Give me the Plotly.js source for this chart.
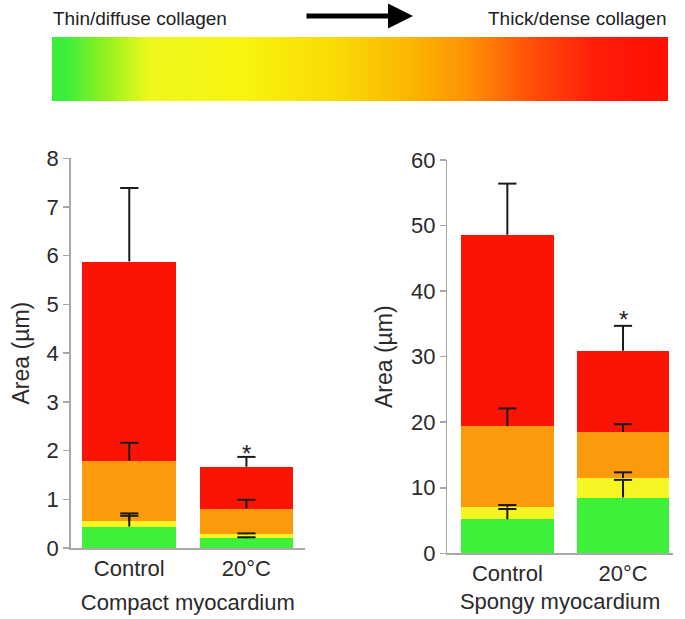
<!DOCTYPE html>
<html>
<head>
<meta charset="utf-8">
<script src="https://cdn.plot.ly/plotly-3.0.1.min.js"></script>
<style>html,body{margin:0;padding:0;background:#fff;}#chart{width:685px;height:619px;}</style>
</head>
<body>
<div id="chart"></div>
<script>
// ---- Data ----
const groups = ['Control', '20°C'];
const layerNames = ['Thin/diffuse', 'Intermediate', 'Thick', 'Thick/dense'];
const layerColors = ['#3ef03a', '#f5f523', '#fb9a0a', '#fa1405'];

// Compact myocardium: stacked segment heights (µm)
const compactGreen = [0.44, 0.20];
const compactYellow = [0.12, 0.08];
const compactOrange = [1.23, 0.53];
const compactRed = [4.09, 0.86];
const compactGreenErr = [0.22, 0.02];
const compactYellowErr = [0.15, 0.02];
const compactOrangeErr = [0.37, 0.18];
const compactRedErr = [1.51, 0.20];

// Spongy myocardium
const spongyGreen = [5.2, 8.5];
const spongyYellow = [1.8, 3.0];
const spongyOrange = [12.4, 7.0];
const spongyRed = [29.2, 12.4];
const spongyGreenErr = [1.56, 2.7];
const spongyYellowErr = [0.37, 0.85];
const spongyOrangeErr = [2.7, 1.2];
const spongyRedErr = [7.8, 3.8];

// Significance markers (y position of the asterisk)
const compactStarY = [null, 1.95];
const spongyStarY = [null, 35.7];

// Colour legend bar
const gradientLevels = [[0,1,2,3,4,5,6,7,8,9,10,11,12,13,14,15,16,17,18,19,20]];
const gradientColorscale = [
  [0, '#3cee3c'], [0.06, '#8cf020'], [0.14, '#eef81c'], [0.3, '#f8f410'],
  [0.45, '#f8dc05'], [0.58, '#fbb800'], [0.68, '#fd9305'], [0.8, '#ff4a08'],
  [0.9, '#ff1e08'], [1, '#ff1005']
];

// ---- Traces ----
const errColor = '#1a1a1a';
function barTrace(vals, idx, xa, ya) {
  return {
    type: 'bar', x: groups, y: vals, width: 0.8,
    xaxis: xa, yaxis: ya, name: layerNames[idx], showlegend: false,
    marker: {color: layerColors[idx], line: {width: 0}},
    hoverinfo: 'y'
  };
}
function addArr(a, b) { return a.map((v, i) => v + b[i]); }
function errTraces(tops, errs, xa, ya) {
  // stem (upper error only, no caps) drawn from the segment top
  const stem = {
    type: 'scatter', mode: 'markers', x: groups, y: tops, xaxis: xa, yaxis: ya,
    marker: {size: 1, opacity: 0}, showlegend: false, hoverinfo: 'skip', cliponaxis: false,
    error_y: {type: 'data', array: errs, arrayminus: [0, 0], symmetric: false,
              color: errColor, thickness: 2, width: 0}
  };
  // cap at the upper end
  const cap = {
    type: 'scatter', mode: 'markers', x: groups, y: addArr(tops, errs), xaxis: xa, yaxis: ya,
    marker: {symbol: 'line-ew-open', size: 13, color: errColor, line: {width: 2, color: errColor}},
    showlegend: false, hoverinfo: 'skip', cliponaxis: false
  };
  return [stem, cap];
}

function stackTraces(layers, errs, xa, ya) {
  let out = layers.map((l, i) => barTrace(l, i, xa, ya));
  let top = [0, 0];
  layers.forEach((l, i) => {
    top = addArr(top, l);
    out = out.concat(errTraces(top, errs[i], xa, ya));
  });
  return out;
}

const traces = [].concat(
  stackTraces([compactGreen, compactYellow, compactOrange, compactRed],
              [compactGreenErr, compactYellowErr, compactOrangeErr, compactRedErr], 'x', 'y'),
  stackTraces([spongyGreen, spongyYellow, spongyOrange, spongyRed],
              [spongyGreenErr, spongyYellowErr, spongyOrangeErr, spongyRedErr], 'x2', 'y2'),
  [{
    type: 'heatmap', z: gradientLevels, xaxis: 'x3', yaxis: 'y3',
    colorscale: gradientColorscale, zmin: 0, zmax: 20, zsmooth: 'best',
    showscale: false, hoverinfo: 'skip'
  }]
);

const font = 'Liberation Sans, Arial, sans-serif';
const tc = '#2a2a2a';
const axisCommon = {
  showgrid: false, zeroline: false, showline: true, linecolor: '#a8a8a8', linewidth: 1.5,
  tickfont: {family: font, size: 22, color: tc}
};

const annotations = [];
groups.forEach((g, i) => {
  if (compactStarY[i] !== null) annotations.push({xref: 'x', yref: 'y', x: g, y: compactStarY[i], text: '*', showarrow: false, font: {family: font, size: 24, color: '#222'}});
  if (spongyStarY[i] !== null) annotations.push({xref: 'x2', yref: 'y2', x: g, y: spongyStarY[i], text: '*', showarrow: false, font: {family: font, size: 24, color: '#222'}});
});
annotations.push(
  {xref: 'paper', yref: 'paper', x: 51/685, y: 1 - 18/619, xanchor: 'left', yanchor: 'middle', text: 'Thin/diffuse collagen', showarrow: false, font: {family: font, size: 19, color: '#222'}},
  {xref: 'paper', yref: 'paper', x: 669/685, y: 1 - 18/619, xanchor: 'right', yanchor: 'middle', text: 'Thick/dense collagen', showarrow: false, font: {family: font, size: 19, color: '#222'}},
  {xref: 'paper', yref: 'paper', x: 413/685, y: 1 - 16/619, axref: 'paper', ayref: 'paper', ax: 305/685, ay: 1 - 16/619, text: '', showarrow: true, arrowhead: 2, arrowsize: 1, arrowwidth: 5, arrowcolor: '#000'}
);

const layout = {
  width: 685, height: 619, margin: {l: 0, r: 0, t: 0, b: 0},
  paper_bgcolor: '#fff', plot_bgcolor: 'rgba(0,0,0,0)',
  barmode: 'stack', showlegend: false,
  font: {family: font, color: tc},
  xaxis: Object.assign({}, axisCommon, {domain: [70.7/685, 305/685], range: [-0.5, 1.5], type: 'category', ticks: '',
    title: {text: 'Compact myocardium', font: {family: font, size: 22, color: tc}, standoff: 14}}),
  yaxis: Object.assign({}, axisCommon, {domain: [1 - 548/619, 1 - 158.3/619], range: [0, 8], dtick: 1, ticks: 'outside', ticklen: 6, tickcolor: '#a8a8a8', tickwidth: 1.5,
    title: {text: 'Area (µm)', font: {family: font, size: 23, color: tc}, standoff: 10}}),
  xaxis2: Object.assign({}, axisCommon, {domain: [447.3/685, 673/685], range: [-0.519, 1.432], type: 'category', ticks: '', anchor: 'y2',
    title: {text: 'Spongy myocardium', font: {family: font, size: 22, color: tc}, standoff: 8}}),
  yaxis2: Object.assign({}, axisCommon, {domain: [1 - 553.3/619, 1 - 160/619], range: [0, 60], dtick: 10, ticks: 'outside', ticklen: 6, tickcolor: '#a8a8a8', tickwidth: 1.5, anchor: 'x2',
    title: {text: 'Area (µm)', font: {family: font, size: 23, color: tc}, standoff: 12}}),
  xaxis3: {domain: [52/685, 668/685], anchor: 'y3', visible: false, range: [-0.5, 20.5]},
  yaxis3: {domain: [1 - 101/619, 1 - 37/619], anchor: 'x3', visible: false, range: [-0.5, 0.5]},
  annotations: annotations
};

Plotly.newPlot('chart', traces, layout, {displayModeBar: false, staticPlot: true});
</script>
</body>
</html>
